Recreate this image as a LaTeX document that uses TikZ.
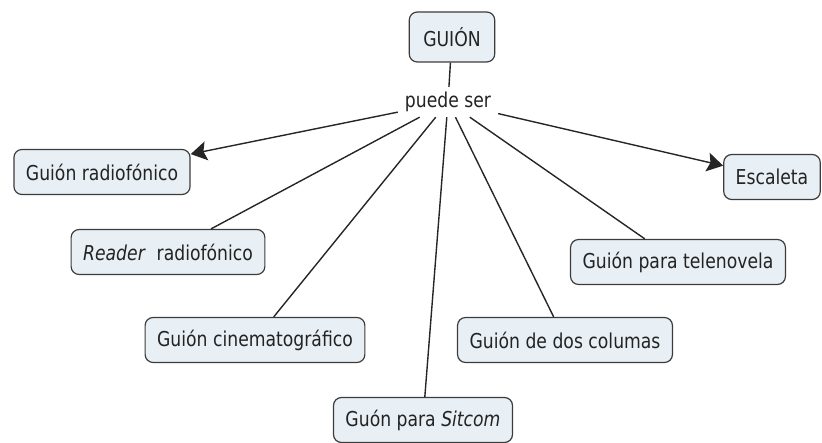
\documentclass[tikz,border=0pt]{standalone}
\usepackage{fontspec}
\setmainfont{DejaVu Sans}[FakeStretch=0.84]
\usepackage{tikz}
\usetikzlibrary{shapes,arrows.meta,positioning}
\definecolor{boxfill}{RGB}{232,240,245}
\definecolor{boxline}{RGB}{60,60,60}
\definecolor{txt}{RGB}{35,35,35}

\begin{document}
\begin{tikzpicture}[x=1pt, y=-1pt, font=\fontsize{20.5}{23}\selectfont]
    % Define styles
    \tikzstyle{concept} = [rectangle, rounded corners=8pt, minimum height=45pt, inner xsep=12pt, text centered, draw=boxline, line width=1.2pt, fill=boxfill, text=txt]
    \tikzstyle{linkword} = [rectangle, minimum width=100pt, minimum height=30pt, inner sep=0pt, text=txt]
    \tikzstyle{line} = [line width=1.4pt, draw=black!85]
    \tikzstyle{arrow} = [line, -{Stealth[length=16pt, width=19pt, inset=3pt]}]

    \useasboundingbox (0,0) rectangle (822,443);

    % Nodes
    \node [concept, minimum height=50pt, inner xsep=14pt] (guion) at (452,37) {GUIÓN};
    \node [linkword] (puede) at (448,102) {puede ser};
    \node [concept] (radio) at (102,172) {Guión radiofónico};
    \node [concept] (escaleta) at (772,177) {Escaleta};
    \node [concept] (reader) at (168,252) {\textit{Reader}~ radiofónico};
    \node [concept] (tele) at (678,262) {Guión para telenovela};
    \node [concept] (cine) at (255,340) {Guión cinematográfico};
    \node [concept] (dos) at (565,340) {Guión de dos columas};
    \node [concept] (sitcom) at (423,420) {Guón para \textit{Sitcom}};

    % Arrows
    \draw [line] (guion) -- (puede);
    \draw [arrow] (puede) -- (radio);
    \draw [arrow] (puede) -- (escaleta);
    \draw [line] (puede) -- (reader);
    \draw [line] (puede) -- (cine);
    \draw [line] (puede) -- (sitcom);
    \draw [line] (puede) -- (dos);
    \draw [line] (puede) -- (tele);
\end{tikzpicture}
\end{document}
